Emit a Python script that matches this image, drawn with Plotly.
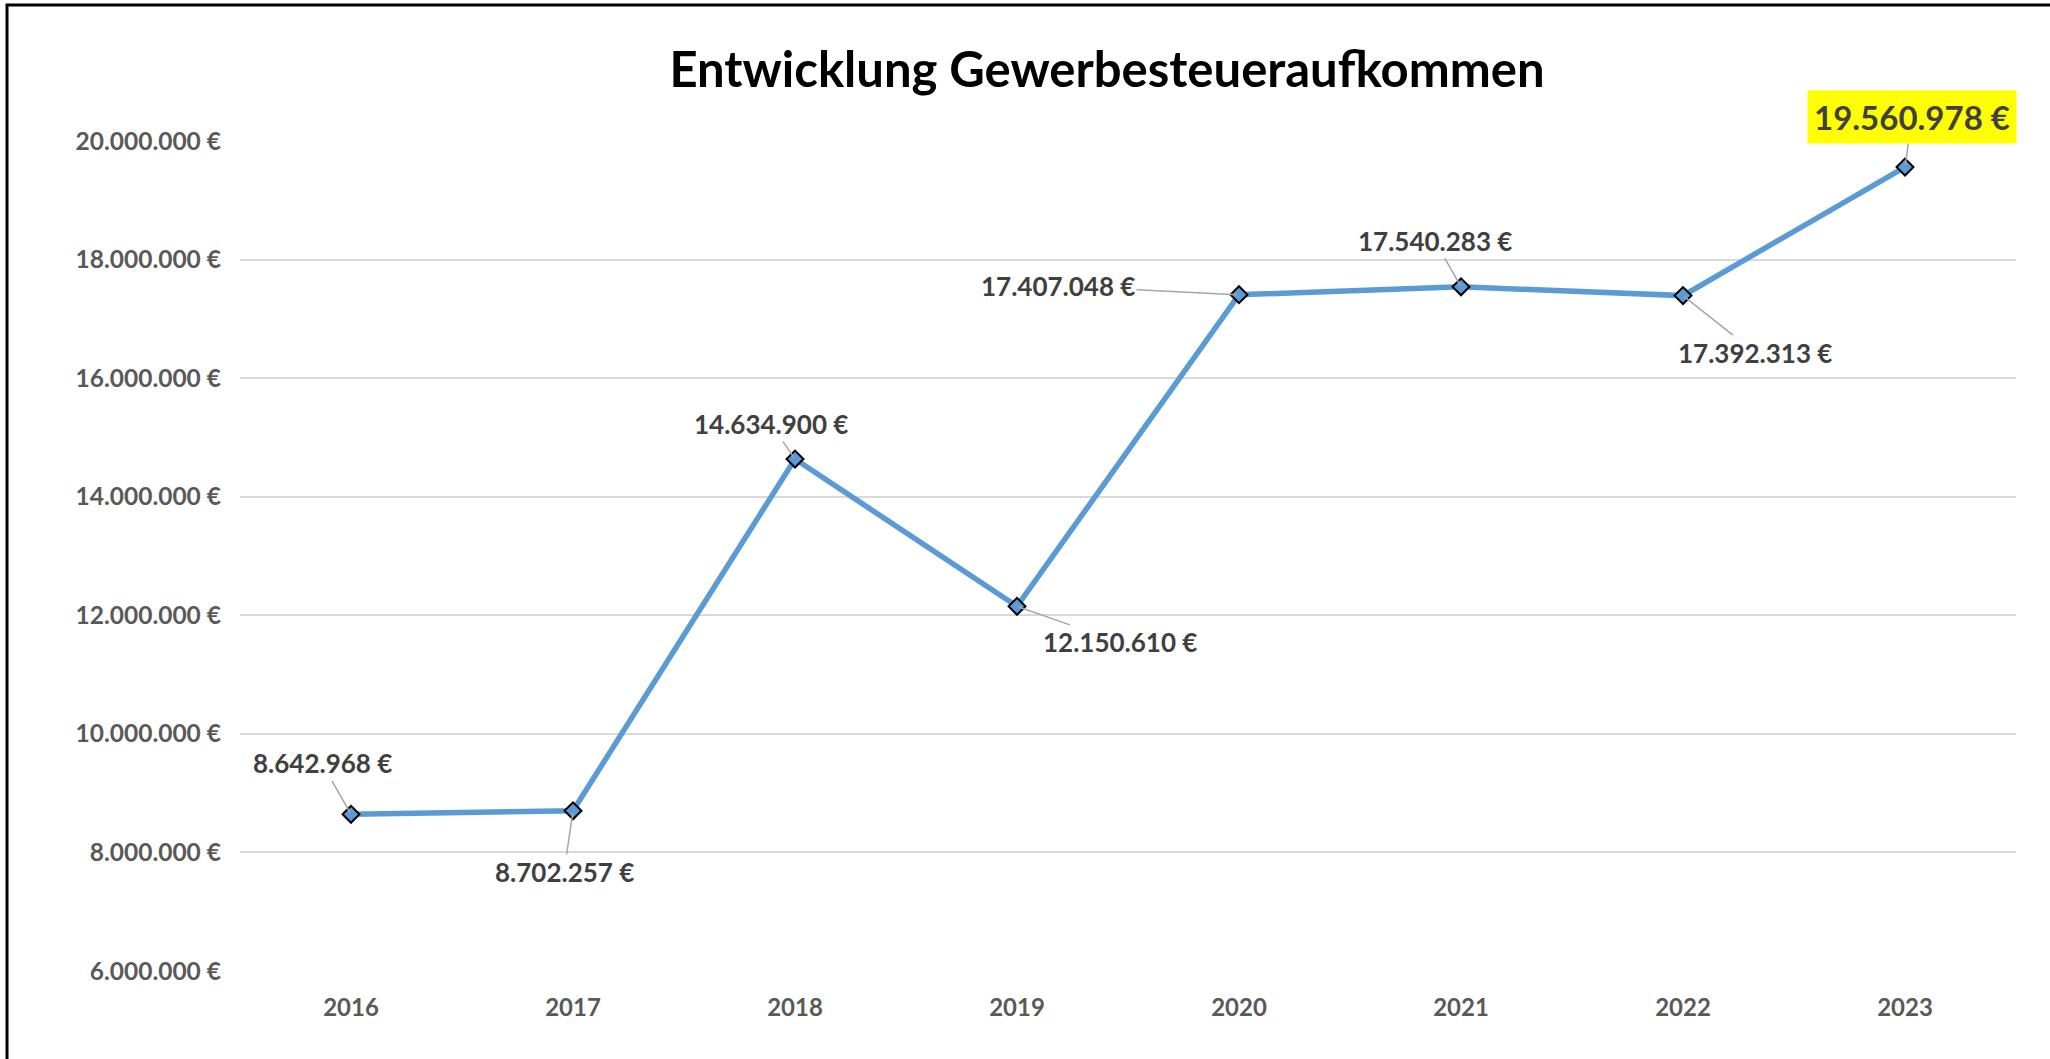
import plotly.graph_objects as go

years = ["2016", "2017", "2018", "2019", "2020", "2021", "2022", "2023"]
values = [8642968, 8702257, 14634900, 12150610, 17407048, 17540283, 17392313, 19560978]
label_texts = ["8.642.968 €", "8.702.257 €", "14.634.900 €", "12.150.610 €",
               "17.407.048 €", "17.540.283 €", "17.392.313 €", "19.560.978 €"]
tick_vals = [6000000, 8000000, 10000000, 12000000, 14000000, 16000000, 18000000, 20000000]
tick_texts = ["6.000.000 €", "8.000.000 €", "10.000.000 €", "12.000.000 €",
              "14.000.000 €", "16.000.000 €", "18.000.000 €", "20.000.000 €"]
# label offsets in pixels (styling of label placement)
label_dx = [-29, -9, -24, 103, -181, -26, 72, 7]
label_dy = [-51, 61, -35, 36, -9, -46, 57, -50]

FONT = "Lato"
BLUE = "#5B9BD5"

fig = go.Figure()
fig.add_trace(go.Scatter(
    x=years, y=values, mode="lines+markers",
    line=dict(color=BLUE, width=5.5),
    marker=dict(symbol="diamond", size=13, color=BLUE,
                line=dict(color="black", width=2)),
    hoverinfo="skip", showlegend=False,
))

for i, (yr, v, t) in enumerate(zip(years, values, label_texts)):
    highlight = (i == len(years) - 1)
    fig.add_annotation(
        x=years.index(yr), y=v, xref="x", yref="y",
        text="<b>" + t + "</b>",
        showarrow=True, arrowhead=0, arrowwidth=1.5, arrowcolor="#A6A6A6",
        ax=label_dx[i], ay=label_dy[i], axref="pixel", ayref="pixel",
        standoff=2,
        font=dict(family=FONT, size=33 if highlight else 26, color="#404040"),
        bgcolor="#FFFF00" if highlight else "rgba(0,0,0,0)",
        borderpad=6 if highlight else 1,
    )

W, H = 2050, 1059
L, R, T, B = 240, 34, 141, 88
pw, ph = W - L - R, H - T - B
# frame (top and left edges visible; right/bottom run off the picture)
fig.add_shape(type="rect", xref="paper", yref="paper",
              x0=(7 - L) / pw, x1=(W + 20 - L) / pw,
              y0=(H - B - (H + 20)) / ph, y1=(H - B - 5) / ph,
              line=dict(color="black", width=3), fillcolor="rgba(0,0,0,0)", layer="above")

fig.update_layout(
    width=W, height=H,
    margin=dict(l=L, r=R, t=T, b=B),
    paper_bgcolor="white", plot_bgcolor="white",
    title=dict(text="<b>Entwicklung Gewerbesteueraufkommen</b>",
               x=1107 / W, xanchor="center", xref="container",
               y=1 - 70 / H, yanchor="middle", yref="container",
               font=dict(family=FONT, size=49, color="black")),
    xaxis=dict(type="category", range=[-0.5, len(years) - 0.5],
               showgrid=False, showline=False, zeroline=False, ticks="",
               tickfont=dict(family=FONT, size=24, color="#595959", weight="bold"),
               ticklabelstandoff=20, fixedrange=True),
    yaxis=dict(range=[6000000, 20000000], tickvals=tick_vals, ticktext=tick_texts,
               showgrid=True, gridcolor="#D9D9D9", gridwidth=2, zeroline=False,
               showline=False, ticks="",
               tickfont=dict(family=FONT, size=24.5, color="#595959", weight="bold"),
               ticklabelstandoff=18, fixedrange=True),
    font=dict(family=FONT),
)

fig.write_html("out.html")
